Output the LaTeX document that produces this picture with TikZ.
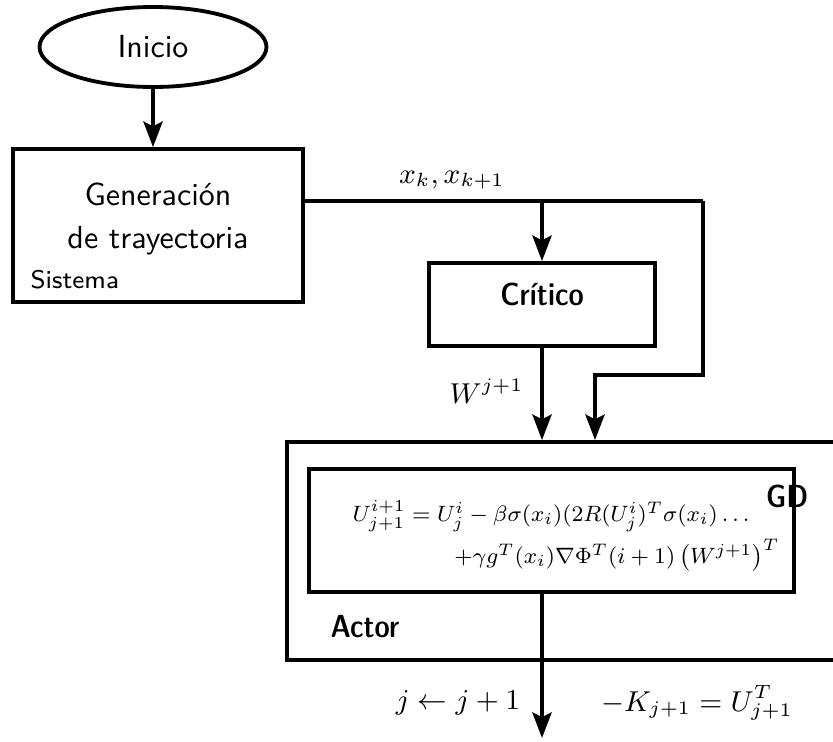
\documentclass[tikz,border=0pt]{standalone}
\usepackage{amsmath}
\usepackage{amssymb}
\usepackage{graphicx}
\usetikzlibrary{shapes.geometric,arrows.meta,positioning}
\renewcommand{\familydefault}{\sfdefault}

\begin{document}
\begin{tikzpicture}[x=0.011cm,y=-0.011cm,
  blk/.style={draw,line width=1.2pt,rectangle,inner sep=0pt},
  tag/.style={inner sep=0pt,font=\fontseries{sbc}\selectfont},
  eqn/.style={inner sep=0pt,font=\footnotesize},
  flow/.style={line width=1.2pt,-{Stealth[length=8pt,width=6pt,inset=1.5pt]}},
  line join=miter]
\useasboundingbox (0,0) rectangle (833,741);

% blocks
\node[draw,line width=1.2pt,ellipse,minimum width=2.497cm,minimum height=0.88cm] (ini) at (153,47) {Inicio};
\node[blk,minimum width=3.19cm,minimum height=1.683cm] (sis) at (158,225.5) {};
\node[align=center] (gen) at (158,219) {Generación\\[1.5pt]de trayectoria};
\node[anchor=base west,inner sep=0pt,font=\footnotesize] (sislbl) at (30,288) {Sistema};
\node[blk,minimum width=2.486cm,minimum height=0.913cm] (crit) at (542,304.5) {};
\node[tag,anchor=base] (critlbl) at (542,305) {Crítico};
\node[blk,minimum width=6.743cm,minimum height=2.398cm] (act) at (593.5,551) {};
\node[blk,minimum width=5.335cm,minimum height=1.353cm] (gd) at (551.5,530.5) {};
\node[tag,anchor=base east] (gdlbl) at (809,507) {GD};
\node[tag,anchor=base west] (actlbl) at (330,637) {Actor};

% update law
\node[eqn,anchor=base west] (eq1) at (352,521)
  {\scalebox{0.87}{$U_{j+1}^{i+1} = U_j^i - \beta\sigma(x_i)(2R(U_j^i)^T\sigma(x_i)\dots$}};
\node[eqn,anchor=base east] (eq2) at (780,563)
  {\scalebox{0.87}{$+\gamma g^T(x_i)\nabla\Phi^T(i+1)\left(W^{j+1}\right)^T$}};

% signals
\coordinate (a1) at (703,201);
\coordinate (a2) at (703,375);
\coordinate (a3) at (595,375);
\coordinate (out) at (542,738);
\draw[flow] (ini.south) -- (ini.south |- sis.north);
\draw[line width=1.2pt] (sis.east |- a1) -- (a1);
\draw[flow] (crit.north |- a1) -- (crit.north);
\draw[flow] (a1) -- (a2) -- (a3) -- (a3 |- act.north);
\draw[flow] (crit.south) -- (crit.south |- act.north);
\draw[flow] (crit.south |- gd.south) -- (out);

% labels
\node[font=\small] (xk) at (452,180) {$x_k, x_{k+1}$};
\node[font=\small,anchor=east] (w) at (535,391) {$W^{j+1}$};
\node[font=\small] (jj) at (458,703) {$j \leftarrow j+1$};
\node[font=\small] (kk) at (697,703) {$-K_{j+1} = U_{j+1}^{T}$};

\end{tikzpicture}
\end{document}
